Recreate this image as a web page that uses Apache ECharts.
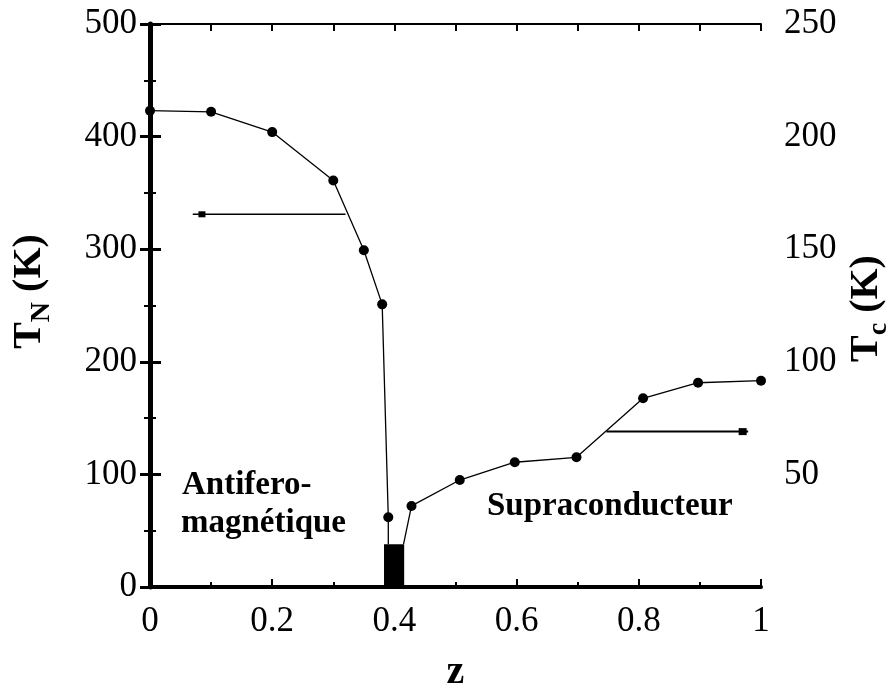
<!DOCTYPE html>
<html>
<head>
<meta charset="utf-8">
<script src="https://cdn.jsdelivr.net/npm/echarts@6/dist/echarts.min.js"></script>
<style>
html,body{margin:0;padding:0;background:#fff;}
#chart{width:891px;height:684px;}
</style>
</head>
<body>
<div id="chart"></div>
<script>
// ---- data ----
var zNeel = [0, 0.1, 0.2, 0.3, 0.35, 0.38, 0.39];
var tNeel = [423, 422, 404, 361, 299, 251, 62];
var neelDropZ = 0.39, neelDropT = 38;          // line continues down to the top of the block

var zTc = [0.428, 0.507, 0.597, 0.698, 0.807, 0.897, 1.0];
var tTc = [36, 47.5, 55.4, 57.6, 83.8, 90.7, 91.6];
var tcStartZ = 0.415, tcStartT = 19;           // line starts at the block's top corner

var blockZ = [0.383, 0.416];                    // black block near z = 0.4
var blockTN = 38;

var arrowLeftZ = [0.32, 0.085, 0.07];   var arrowLeftT = 331;  // points to TN axis
var arrowRightZ = [0.747, 0.97, 0.979]; var arrowRightT = 69;  // points to Tc axis

var xTickLabels = {0:'0', 2:'0.2', 4:'0.4', 6:'0.6', 8:'0.8', 10:'1'};

// ---- build series ----
var FONT = 'Liberation Serif';
var neelData = zNeel.map(function(z, i){ return [z, tNeel[i]]; });
neelData.push({value:[neelDropZ, neelDropT], symbol:'none'});

var tcData = [{value:[tcStartZ, tcStartT], symbol:'none'}].concat(
  zTc.map(function(z, i){ return [z, tTc[i]]; }));

var arrowL = arrowLeftZ.map(function(z, i){ return {value:[z, arrowLeftT], symbol: i===1 ? 'rect' : 'none'}; });
var arrowR = arrowRightZ.map(function(z, i){ return {value:[z, arrowRightT], symbol: i===1 ? 'rect' : 'none'}; });

var chart = echarts.init(document.getElementById('chart'), null, {renderer:'canvas'});

var nameRich = {
  a:{fontFamily:FONT, fontWeight:'bold', fontSize:40, color:'#000', lineHeight:40},
  b:{fontFamily:FONT, fontWeight:'bold', fontSize:28, color:'#000', lineHeight:28, padding:[24,0,0,0]}
};

var option = {
  backgroundColor:'#fff',
  animation:false,
  grid:{left:150, right:130, top:24, bottom:97, containLabel:false, outerBoundsMode:'none'},
  xAxis:[
    {
      type:'value', min:0, max:1, interval:0.2, position:'bottom',
      splitLine:{show:false},
      name:'z', nameLocation:'middle', nameGap:66,
      nameTextStyle:{fontFamily:FONT, fontWeight:'bold', fontSize:40, color:'#000'},
      axisLine:{show:true, onZero:false, lineStyle:{color:'#000', width:4}},
      axisTick:{show:true, inside:true, length:8, lineStyle:{color:'#000', width:2}},
      minorTick:{show:true, splitNumber:2, length:5, lineStyle:{color:'#000', width:2}},
      axisLabel:{show:true, margin:17, fontFamily:FONT, fontSize:35, color:'#000',
        formatter:function(v){ var k = Math.round(v*10); return xTickLabels[k] !== undefined ? xTickLabels[k] : ''; }}
    },
    {
      type:'value', min:0, max:1, interval:0.2, position:'top',
      splitLine:{show:false},
      axisLine:{show:true, onZero:false, lineStyle:{color:'#000', width:2}},
      axisLabel:{show:false},
      axisTick:{show:true, inside:true, length:7, lineStyle:{color:'#000', width:2}},
      minorTick:{show:true, splitNumber:2, length:7, lineStyle:{color:'#000', width:2}}
    }
  ],
  yAxis:[
    {
      type:'value', min:0, max:500, interval:100, position:'left',
      splitLine:{show:false},
      axisLine:{show:true, lineStyle:{color:'#000', width:4}},
      axisTick:{show:true, inside:true, length:11, lineStyle:{color:'#000', width:3}},
      minorTick:{show:true, splitNumber:2, length:6, lineStyle:{color:'#000', width:2}},
      axisLabel:{margin:13, fontFamily:FONT, fontSize:35, color:'#000'},
      name:'{a|T}{b|N}{a| (K)}', nameLocation:'middle', nameRotate:90, nameGap:100,
      nameMoveOverlap:false,
      nameTextStyle:{padding:[0,0,0,28], rich:nameRich}
    },
    {
      type:'value', min:0, max:250, interval:50, position:'right',
      splitLine:{show:false},
      axisLine:{show:true, lineStyle:{color:'#000', width:5}},
      axisTick:{show:true, inside:true, length:10, lineStyle:{color:'#000', width:3}},
      minorTick:{show:true, splitNumber:2, length:6, lineStyle:{color:'#000', width:2}},
      axisLabel:{margin:23, fontFamily:FONT, fontSize:35, color:'#000',
        formatter:function(v){ return v === 0 ? '' : String(v); }},
      name:'{a|T}{b|c}{a| (K)}', nameLocation:'middle', nameRotate:90, nameGap:86,
      nameMoveOverlap:false,
      nameTextStyle:{padding:[0,6,0,0], rich:nameRich}
    }
  ],
  series:[
    {
      type:'custom', xAxisIndex:0, yAxisIndex:0, silent:true, z:3,
      data:[[blockZ[0], blockZ[1], blockTN]],
      renderItem:function(params, api){
        var p0 = api.coord([api.value(0), 0]);
        var p1 = api.coord([api.value(1), api.value(2)]);
        return {type:'rect', shape:{x:p0[0], y:p1[1], width:p1[0]-p0[0], height:p0[1]-p1[1]},
                style:{fill:'#000'}};
      }
    },
    {
      name:'TN', type:'line', xAxisIndex:0, yAxisIndex:0, clip:false, z:4,
      data:neelData, symbol:'circle', symbolSize:10, showSymbol:true,
      itemStyle:{color:'#000'}, lineStyle:{color:'#000', width:1.3}
    },
    {
      name:'Tc', type:'line', xAxisIndex:0, yAxisIndex:1, clip:false, z:4,
      data:tcData, symbol:'circle', symbolSize:10, showSymbol:true,
      itemStyle:{color:'#000'}, lineStyle:{color:'#000', width:1.3}
    },
    {
      name:'arrowL', type:'line', xAxisIndex:0, yAxisIndex:0, z:4,
      data:arrowL, symbolSize:[7,6], itemStyle:{color:'#000'}, lineStyle:{color:'#000', width:1.5}
    },
    {
      name:'arrowR', type:'line', xAxisIndex:0, yAxisIndex:1, z:4,
      data:arrowR, symbolSize:[8,7], itemStyle:{color:'#000'}, lineStyle:{color:'#000', width:2}
    }
  ],
  graphic:[
    {type:'text', left:182, top:469, style:{text:'Antifero-', font:'bold 33px "Liberation Serif"', fill:'#000'}},
    {type:'text', left:181, top:507, style:{text:'magnétique', font:'bold 33px "Liberation Serif"', fill:'#000'}},
    {type:'text', left:487, top:490, style:{text:'Supraconducteur', font:'bold 33px "Liberation Serif"', fill:'#000'}}
  ]
};
chart.setOption(option);
</script>
</body>
</html>
